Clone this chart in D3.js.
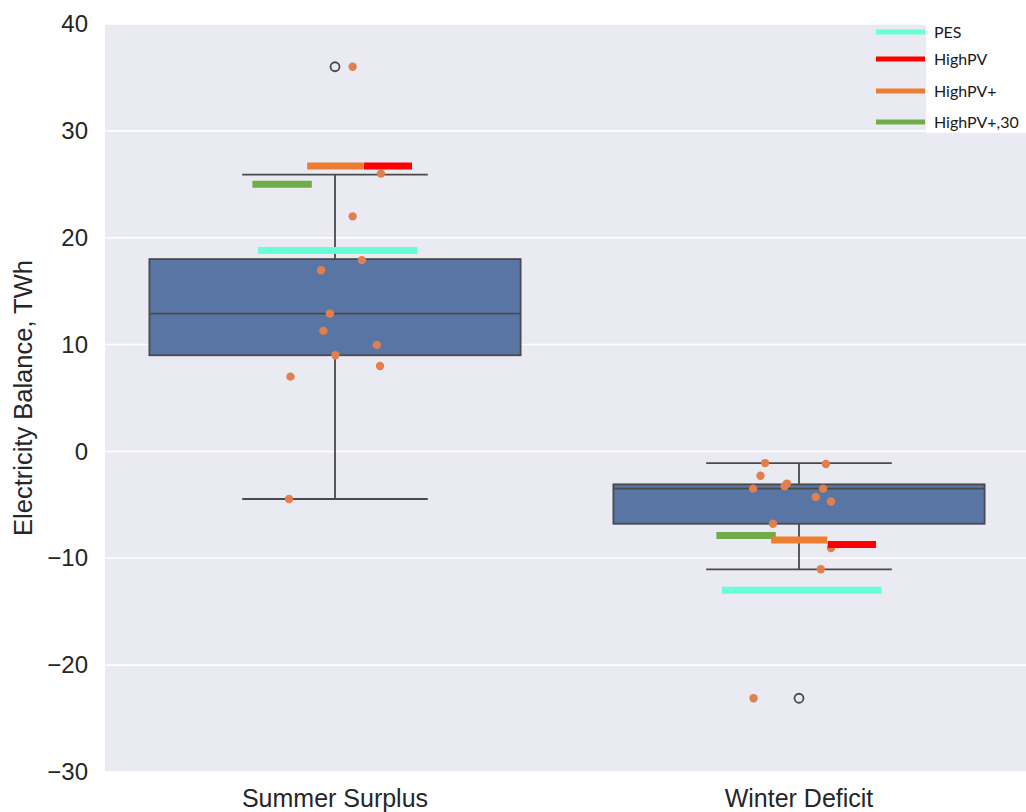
<!DOCTYPE html>
<html>
<head>
<meta charset="utf-8">
<script src="https://cdn.jsdelivr.net/npm/d3@7"></script>
<style>
  html, body { margin: 0; padding: 0; background: #ffffff; }
  svg { display: block; }
</style>
</head>
<body>
<svg id="chart" width="1026" height="812"></svg>
<script>
// Categories on the x axis
const categories = ["Summer Surplus", "Winter Deficit"];

// Box statistics per category
const boxQ1 = [9.0, -6.77];
const boxMedian = [12.9, -3.48];
const boxQ3 = [18.0, -3.08];
const whiskerLow = [-4.45, -11.03];
const whiskerHigh = [25.9, -1.09];
const boxOutliers = [[36.0], [-23.1]];

// Individual observations (strip plot) with their jitter within the band
const summerValues = [36.0, 26.0, 22.0, 17.9, 16.96, 12.9, 11.28, 9.97, 9.0, 8.0, 7.0, -4.45];
const summerJitter = [0.038, 0.099, 0.038, 0.058, -0.030, -0.011, -0.025, 0.090, 0.001, 0.097, -0.096, -0.099];
const winterValues = [-1.09, -1.18, -2.27, -3.01, -3.26, -3.48, -3.48, -4.26, -4.69, -6.77, -9.04, -11.03, -23.1];
const winterJitter = [-0.073, 0.058, -0.083, -0.026, -0.031, -0.099, 0.052, 0.036, 0.069, -0.056, 0.069, 0.047, -0.098];

// Scenario reference values
const scenarios = ["PES", "HighPV", "HighPV+", "HighPV+,30"];
const scenarioColors = ["#66FFDA", "#FF0000", "#ED7D31", "#70AD47"];
const summerScenario = [18.8, 26.7, 26.7, 25.0];
const winterScenario = [-13.0, -8.7, -8.3, -7.86];

// Y ticks
const yTicks = [-30, -20, -10, 0, 10, 20, 30, 40];

const svg = d3.select("#chart");
const W = 1026, H = 812;
const plot = { left: 105, right: 1026, top: 24, bottom: 772 };

const x = d3.scaleBand().domain(categories).range([103, 1031]).padding(0);
const y = d3.scaleLinear().domain([-30, 40]).range([plot.bottom, plot.top]);
const bw = x.bandwidth();
const xAt = (cat, off) => x(cat) + bw * (0.5 + off);

// Horizontal extent of each scenario bar inside a band
const scenarioSpan = {
  "PES": [-0.166, 0.178],
  "HighPV": [0.062, 0.166],
  "HighPV+": [-0.060, 0.061],
  "HighPV+,30": [-0.178, -0.050]
};

// Background
svg.append("rect")
  .attr("x", plot.left).attr("y", plot.top)
  .attr("width", plot.right - plot.left).attr("height", plot.bottom - plot.top)
  .attr("fill", "#EAEAF2");

// Grid lines
svg.append("g").selectAll("line").data(yTicks).join("line")
  .attr("x1", plot.left).attr("x2", plot.right)
  .attr("y1", d => y(d)).attr("y2", d => y(d))
  .attr("stroke", "#ffffff").attr("stroke-width", 1.6);

// Y axis
const yAxis = svg.append("g")
  .attr("transform", `translate(${plot.left},0)`)
  .call(d3.axisLeft(y).tickValues(yTicks).tickSize(0).tickPadding(17));
yAxis.select(".domain").remove();
yAxis.selectAll("text")
  .attr("font-family", "'Liberation Sans', Arial, sans-serif")
  .attr("font-size", 24).attr("fill", "#262626");

// Y label
svg.append("text")
  .attr("transform", `translate(32,${(plot.top + plot.bottom) / 2}) rotate(-90)`)
  .attr("text-anchor", "middle")
  .attr("font-family", "'Liberation Sans', Arial, sans-serif")
  .attr("font-size", 25.5).attr("fill", "#262626")
  .text("Electricity Balance, TWh");

// X labels
svg.append("g").selectAll("text").data(categories).join("text")
  .attr("x", d => xAt(d, 0)).attr("y", 807)
  .attr("text-anchor", "middle")
  .attr("font-family", "'Liberation Sans', Arial, sans-serif")
  .attr("font-size", 25).attr("fill", "#262626")
  .text(d => d);

// Box plots
const lineColor = "#4a4a4a";
const boxes = svg.append("g");
categories.forEach((cat, i) => {
  const cx = xAt(cat, 0);
  const half = bw * 0.4;
  const capHalf = bw * 0.2;
  // whiskers
  boxes.append("line").attr("x1", cx).attr("x2", cx)
    .attr("y1", y(boxQ3[i])).attr("y2", y(whiskerHigh[i]))
    .attr("stroke", lineColor).attr("stroke-width", 1.8);
  boxes.append("line").attr("x1", cx).attr("x2", cx)
    .attr("y1", y(boxQ1[i])).attr("y2", y(whiskerLow[i]))
    .attr("stroke", lineColor).attr("stroke-width", 1.8);
  [whiskerHigh[i], whiskerLow[i]].forEach(v => {
    boxes.append("line").attr("x1", cx - capHalf).attr("x2", cx + capHalf)
      .attr("y1", y(v)).attr("y2", y(v))
      .attr("stroke", lineColor).attr("stroke-width", 1.8);
  });
  // box
  boxes.append("rect")
    .attr("x", cx - half).attr("width", half * 2)
    .attr("y", y(boxQ3[i])).attr("height", y(boxQ1[i]) - y(boxQ3[i]))
    .attr("fill", "#5875A4").attr("stroke", lineColor).attr("stroke-width", 1.8);
  // median
  boxes.append("line").attr("x1", cx - half).attr("x2", cx + half)
    .attr("y1", y(boxMedian[i])).attr("y2", y(boxMedian[i]))
    .attr("stroke", lineColor).attr("stroke-width", 1.8);
  // outliers
  boxes.selectAll(null).data(boxOutliers[i]).join("circle")
    .attr("cx", cx).attr("cy", d => y(d)).attr("r", 4.5)
    .attr("fill", "none").attr("stroke", lineColor).attr("stroke-width", 1.8);
});

// Strip points
const pts = svg.append("g");
const stripSets = [
  { cat: categories[0], values: summerValues, jitter: summerJitter },
  { cat: categories[1], values: winterValues, jitter: winterJitter }
];
stripSets.forEach(s => {
  pts.selectAll(null).data(s.values.map((v, j) => ({ v, j: s.jitter[j] }))).join("circle")
    .attr("cx", d => xAt(s.cat, d.j)).attr("cy", d => y(d.v)).attr("r", 4.2)
    .attr("fill", "#E1804E");
});

// Scenario bars
const bars = svg.append("g");
const drawOrder = [0, 3, 2, 1];
[summerScenario, winterScenario].forEach((vals, i) => {
  const cat = categories[i];
  drawOrder.forEach(k => {
    const span = scenarioSpan[scenarios[k]];
    bars.append("line")
      .attr("x1", xAt(cat, span[0])).attr("x2", xAt(cat, span[1]))
      .attr("y1", y(vals[k])).attr("y2", y(vals[k]))
      .attr("stroke", scenarioColors[k]).attr("stroke-width", 7);
  });
});

// Legend
const legend = svg.append("g");
legend.append("rect").attr("x", 926).attr("y", 0).attr("width", 100).attr("height", 133)
  .attr("fill", "#ffffff");
const legendY = [32, 59, 91, 122];
scenarios.forEach((name, k) => {
  legend.append("line").attr("x1", 876).attr("x2", 925)
    .attr("y1", legendY[k]).attr("y2", legendY[k])
    .attr("stroke", scenarioColors[k]).attr("stroke-width", 5);
  legend.append("text").attr("x", 934).attr("y", legendY[k])
    .attr("dy", "0.36em")
    .attr("font-family", "Lato, 'Open Sans', sans-serif")
    .attr("font-size", 16).attr("fill", "#1a1a1a")
    .text(name);
});
</script>
</body>
</html>
